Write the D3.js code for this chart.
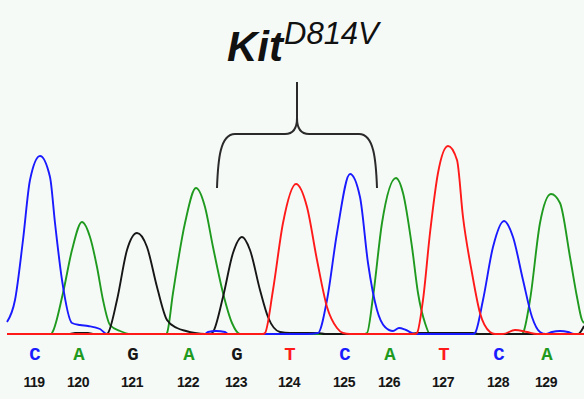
<!DOCTYPE html>
<html>
<head>
<meta charset="utf-8">
<script src="https://cdn.jsdelivr.net/npm/d3@7"></script>
<style>
  html, body { margin: 0; padding: 0; background: #f6faf7; }
  svg { display: block; }
  .trace { fill: none; stroke-width: 1.9; stroke-linejoin: round; }
</style>
</head>
<body>
<svg id="chromatogram" width="584" height="399"></svg>
<script>
// base calls under the trace
const bases = ['C', 'A', 'G', 'A', 'G', 'T', 'C', 'A', 'T', 'C', 'A'];
const baseNumbers = [119, 120, 121, 122, 123, 124, 125, 126, 127, 128, 129];
const callScans = [28, 72, 126, 182, 230, 283, 338, 383, 437, 492, 540];

// trace samples [scan, intensity]
const traceA = [[0, 0], [44, 0], [45, 10], [56, 410], [65, 840], [75, 1120], [83, 970], [90, 670],
  [96, 340], [103, 90], [113, 30], [124, 0], [159, 0], [160, 10], [166, 410], [178, 1110],
  [189, 1460], [198, 1270], [206, 870], [216, 410], [225, 110], [233, 0], [356, 0], [360, 10],
  [366, 370], [375, 1110], [389, 1560], [396, 1410], [405, 870], [411, 410], [418, 110],
  [423, 0], [515, 0], [516, 10], [523, 340], [533, 1110], [544, 1400], [553, 1310],
  [563, 770], [570, 370], [575, 140], [577, 110]];
const traceC = [[0, 120], [8, 340], [16, 940], [23, 1540], [33, 1780], [43, 1570], [48, 1110],
  [55, 540], [65, 110], [73, 90], [81, 80], [93, 50], [100, 0], [198, 0], [201, 20], [209, 30],
  [218, 20], [221, 0], [300, 0], [311, 10], [320, 340], [330, 1010], [343, 1600], [353, 1370],
  [361, 710], [370, 240], [378, 70], [386, 30], [392, 60], [399, 40], [408, 0], [466, 0],
  [468, 10], [476, 340], [486, 870], [497, 1130], [506, 970], [516, 540], [525, 170],
  [533, 20], [539, 0], [545, 20], [553, 30], [561, 20], [567, 0], [577, 0]];
const traceG = [[0, 0], [63, 0], [68, 10], [81, 10], [86, 0], [100, 0], [101, 10], [110, 340],
  [120, 840], [130, 1010], [140, 870], [150, 470], [160, 140], [170, 60], [179, 30],
  [188, 10], [198, 0], [203, 0], [206, 20], [216, 370], [226, 810], [235, 970], [243, 840],
  [253, 440], [261, 170], [273, 20], [283, 10], [311, 10], [318, 0], [403, 0], [410, 10],
  [466, 10], [471, 0], [571, 0], [576, 60], [577, 80]];
const traceT = [[0, 0], [256, 0], [258, 10], [266, 440], [276, 1110], [289, 1500], [300, 1270],
  [310, 740], [320, 270], [330, 60], [336, 10], [343, 0], [408, 0], [410, 10], [416, 340],
  [423, 1010], [431, 1610], [441, 1880], [450, 1740], [456, 1170], [465, 610], [473, 210],
  [483, 20], [488, 0], [496, 0], [508, 40], [520, 20], [530, 0], [577, 0]];

const baseColors = { A: '#1f9a1f', C: '#1a1aff', G: '#161616', T: '#ff1a1a' };

// codon shown by the brace (bases 123-125) and its label
const codonIndex = [4, 6];
const geneName = 'Kit';
const mutationName = 'D814V';

const svg = d3.select('#chromatogram');

const x = d3.scaleLinear().domain([0, 577]).range([7, 584]);
const y = d3.scaleLinear().domain([0, 2000]).range([334, 134]);

const line = d3.line()
  .x((d) => x(d[0]))
  .y((d) => y(d[1]))
  .curve(d3.curveMonotoneX);

const traces = [
  { base: 'A', values: traceA },
  { base: 'G', values: traceG },
  { base: 'C', values: traceC },
  { base: 'T', values: traceT },
];

svg.append('g')
  .selectAll('path')
  .data(traces)
  .enter()
  .append('path')
  .attr('class', 'trace')
  .attr('stroke', (d) => baseColors[d.base])
  .attr('d', (d) => line(d.values));

// base letters
svg.append('g')
  .selectAll('text')
  .data(bases)
  .enter()
  .append('text')
  .attr('x', (d, i) => x(callScans[i]))
  .attr('y', 360)
  .attr('text-anchor', 'middle')
  .attr('fill', (d) => baseColors[d])
  .style('font-family', '"Liberation Mono", monospace')
  .style('font-size', '19px')
  .style('font-weight', 'bold')
  .text((d) => d);

// base numbers
svg.append('g')
  .selectAll('text')
  .data(baseNumbers)
  .enter()
  .append('text')
  .attr('x', (d, i) => x(callScans[i]) - 1)
  .attr('y', 387)
  .attr('text-anchor', 'middle')
  .attr('fill', '#151515')
  .style('font-family', '"Liberation Sans", Arial, sans-serif')
  .style('font-size', '14px')
  .style('font-weight', 'bold')
  .style('letter-spacing', '-0.5px')
  .text((d) => d);

// brace over the codon
const braceLeft = x(callScans[codonIndex[0]]) - 20;
const braceRight = x(callScans[codonIndex[1]]) + 32;
const braceMid = (braceLeft + braceRight) / 2;
const braceTop = 134;
const braceBottom = 188;
const brace = d3.path();
brace.moveTo(braceLeft, braceBottom);
brace.bezierCurveTo(braceLeft + 1, 160, braceLeft + 3, braceTop, braceLeft + 18, braceTop);
brace.lineTo(braceMid - 12, braceTop);
brace.quadraticCurveTo(braceMid, braceTop, braceMid, braceTop - 16);
brace.lineTo(braceMid, 82);
brace.moveTo(braceMid, braceTop - 16);
brace.quadraticCurveTo(braceMid, braceTop, braceMid + 12, braceTop);
brace.lineTo(braceRight - 18, braceTop);
brace.bezierCurveTo(braceRight - 3, braceTop, braceRight - 1, 160, braceRight, braceBottom);

svg.append('path')
  .attr('d', brace.toString())
  .attr('fill', 'none')
  .attr('stroke', '#2a2a2a')
  .attr('stroke-width', 2);

// title
const title = svg.append('text')
  .attr('x', 227)
  .attr('y', 61)
  .attr('fill', '#111')
  .style('font-family', '"Liberation Sans", Arial, sans-serif')
  .style('font-style', 'italic');

title.append('tspan')
  .style('font-size', '42px')
  .style('font-weight', 'bold')
  .text(geneName);

title.append('tspan')
  .attr('dy', -17)
  .attr('dx', 1)
  .style('font-size', '31px')
  .text(mutationName);
</script>
</body>
</html>
